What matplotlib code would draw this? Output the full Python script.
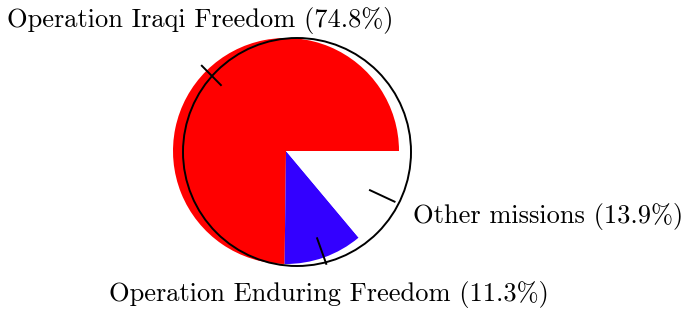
import numpy as np
import matplotlib
matplotlib.use('Agg')
import matplotlib.pyplot as plt
from matplotlib.patches import Circle

# data
missions = ['Operation Iraqi Freedom', 'Operation Enduring Freedom', 'Other missions']
shares = [74.8, 11.3, 13.9]
colors = ['#ff0000', '#3300ff', '#ffffff']

plt.rcParams['font.family'] = 'serif'
plt.rcParams['font.serif'] = ['cmr10']
plt.rcParams['axes.unicode_minus'] = False

fig = plt.figure(figsize=(6.92, 3.24), dpi=100)
ax = fig.add_axes([0, 0, 1, 1])

cx, cy, R = 286, 173, 113
ax.pie(shares, colors=colors, startangle=0, counterclock=True,
       center=(cx, cy), radius=R, wedgeprops=dict(linewidth=0))

# outline circle, a bit off-centre like the original
ax.add_patch(Circle((cx + 11, cy - 1), R + 1, fill=False, ec='black', lw=1.4))

# small radial ticks at the middle of each slice
edges = np.cumsum([0] + shares) / 100.0 * 360
for i in range(len(shares)):
    a = np.deg2rad((edges[i] + edges[i + 1]) / 2)
    ax.plot([cx + 0.82 * R * np.cos(a), cx + 1.06 * R * np.cos(a)],
            [cy + 0.82 * R * np.sin(a), cy + 1.06 * R * np.sin(a)],
            color='black', lw=1.4)

labels = ['%s (%.1f%%)' % (m, s) for m, s in zip(missions, shares)]
pos = [(200, 324 - 21), (329, 324 - 295), (548, 324 - 216)]
for (x, y), t in zip(pos, labels):
    ax.text(x, y, t, ha='center', va='center', fontsize=19)

ax.set_xlim(0, 692)
ax.set_ylim(0, 324)
ax.set_aspect('equal')
ax.axis('off')

plt.savefig('out.png', dpi=100)
